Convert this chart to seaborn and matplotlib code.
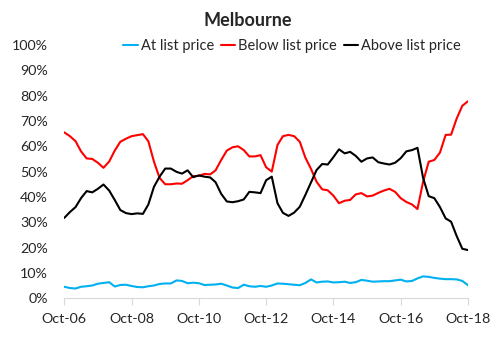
# Melbourne: share of sales at / below / above list price
import pandas as pd
import numpy as np
import seaborn as sns
import matplotlib.pyplot as plt
import matplotlib.dates as mdates
import matplotlib.ticker as mticker

# every second month from Oct-06 to Oct-18 (%)
dates = pd.date_range('2006-10-01', '2018-10-01', freq='2MS')

at_list = [4.5, 4.0, 3.8, 4.5, 4.7, 5.0, 5.7, 6.0, 6.3, 4.6, 5.2, 5.3, 4.8, 4.4, 4.3, 4.7,
           5.0, 5.6, 5.8, 5.8, 7.0, 6.8, 5.9, 6.1, 5.9, 5.2, 5.3, 5.4, 5.7, 5.0, 4.2, 4.0,
           5.3, 4.7, 4.5, 4.8, 4.5, 5.0, 5.8, 5.7, 5.5, 5.3, 5.1, 6.0, 7.4, 6.2, 6.5, 6.6,
           6.2, 6.3, 6.5, 6.0, 6.3, 7.2, 6.9, 6.5, 6.6, 6.7, 6.7, 7.0, 7.3, 6.6, 6.8, 7.8,
           8.6, 8.4, 8.0, 7.7, 7.5, 7.5, 7.4, 6.8, 5.1]

below_list = [65.5, 64.0, 62.0, 58.0, 55.2, 55.0, 53.5, 51.5, 54.0, 58.3, 61.8, 63.0, 64.0,
              64.4, 64.8, 62.0, 53.9, 47.5, 45.0, 45.0, 45.3, 45.2, 46.6, 48.2, 48.3, 49.1,
              48.9, 50.5, 54.6, 58.3, 59.6, 60.0, 58.5, 56.0, 56.0, 56.5, 51.7, 50.0, 60.5,
              64.0, 64.5, 64.0, 61.8, 55.5, 51.0, 46.0, 43.0, 42.6, 40.5, 37.5, 38.5, 38.8,
              41.0, 41.5, 40.2, 40.5, 41.6, 42.5, 43.2, 42.0, 39.5, 38.0, 37.0, 35.2, 46.0,
              53.9, 54.6, 57.5, 64.5, 64.6, 71.0, 76.0, 77.8]

above_list = [31.7, 34.0, 36.0, 39.5, 42.3, 41.8, 43.2, 44.9, 42.5, 38.8, 34.8, 33.6, 33.2,
              33.5, 33.3, 37.0, 44.0, 48.0, 51.2, 51.2, 49.9, 49.2, 50.5, 47.8, 48.5, 48.0,
              47.7, 45.8, 41.2, 38.2, 37.9, 38.3, 39.0, 42.0, 41.8, 41.5, 46.6, 48.0, 37.5,
              33.7, 32.5, 33.8, 36.1, 40.8, 45.8, 50.6, 53.0, 52.8, 55.7, 58.8, 57.2, 57.8,
              56.2, 53.9, 55.2, 55.6, 53.7, 53.2, 52.8, 53.5, 55.3, 58.0, 58.5, 59.4, 47.5,
              40.3, 39.5, 36.0, 31.5, 30.2, 24.5, 19.5, 19.0]

series_names = ['At list price', 'Below list price', 'Above list price']
colors = ['#00B0F0', '#FF0000', '#000000']

df = pd.DataFrame({'date': dates, 'At list price': at_list,
                   'Below list price': below_list, 'Above list price': above_list})
long_df = df.melt(id_vars='date', var_name='series', value_name='pct')

sns.set_style('white')
plt.rcParams['font.family'] = ['Lato', 'DejaVu Sans']

fig = plt.figure(figsize=(4.96, 3.52), dpi=100)
ax = fig.add_axes([0.129, 0.153, 0.815, 0.719])

sns.lineplot(data=long_df, x='date', y='pct', hue='series', hue_order=series_names,
             palette=colors, linewidth=1.5, ax=ax, legend=True)

ax.set_ylim(0, 100)
ax.set_xlim(dates[0] - pd.Timedelta(days=3), dates[-1] + pd.Timedelta(days=3))
ax.set_yticks(np.arange(0, 101, 10))
ax.yaxis.set_major_formatter(mticker.FuncFormatter(lambda v, p: '%d%%' % v))
ax.set_xticks(pd.date_range('2006-10-01', '2018-10-01', freq='24MS'))
ax.xaxis.set_major_formatter(mdates.DateFormatter('%b-%y'))
ax.set_xlabel('')
ax.set_ylabel('')

for s in ['left', 'right', 'top']:
    ax.spines[s].set_visible(False)
ax.spines['bottom'].set_color('#d9d9d9')
ax.tick_params(axis='x', bottom=True, length=5, color='#d9d9d9', labelsize=10.3, pad=6)
ax.tick_params(axis='y', left=False, labelsize=10.3, pad=8)

handles, labels = ax.get_legend_handles_labels()
ax.legend(handles, labels, loc='center', bbox_to_anchor=(0.589, 0.869),
          bbox_transform=fig.transFigure, ncol=3, frameon=False, fontsize=10.5,
          handlelength=1.0, handletextpad=0.2, columnspacing=0.45)

fig.text(0.5, 0.943, 'Melbourne', ha='center', va='center', fontsize=13, fontweight='bold')

fig.savefig('out.png', dpi=100)
